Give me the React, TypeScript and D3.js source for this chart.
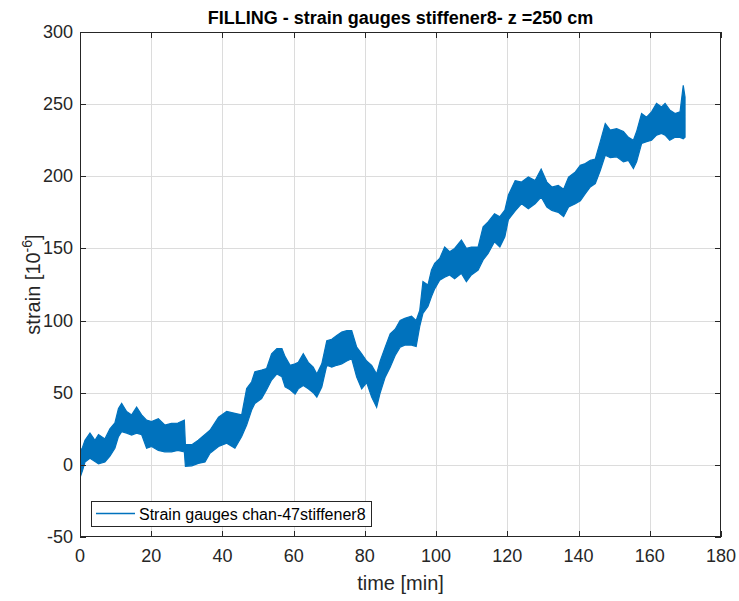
import { useEffect, useRef } from "react";
import * as d3 from "d3";

// sampled envelope of the strain trace (min / max of the noisy band)
const TIME_MIN = [
  0, 0.7, 1.4, 2.8, 4.2, 5.2, 7, 8.4, 9.8, 10.8, 11.7, 13.1, 14.5, 15.9, 17.3, 18.7, 20.1, 22, 23.8,
  25.7, 27.5, 29.3, 29.6, 31.4, 33.2, 35.1, 36.5, 38.9, 41.2, 43.5, 45.4, 46.8, 48.2, 49.1, 51, 52.4,
  53.8, 55.3, 56.7, 57.6, 59, 60.4, 61.3, 62.7, 64.1, 65.5, 66.5, 67.9, 69.3, 70.7, 72.1, 73.5, 74.9,
  76.3, 77.7, 79.1, 80.5, 81.9, 83.3, 84.3, 85.7, 87.1, 88.5, 89.9, 91.2, 93.1, 94.4, 95.4, 96.3, 97.7,
  98.7, 99.6, 101, 102.4, 103.8, 105.2, 107.1, 108.5, 109.9, 111.8, 113.2, 114.6, 116.4, 117.9, 119.3,
  120.3, 122.2, 124, 125.9, 127.8, 129.5, 131.1, 132.5, 134.3, 135.8, 137.2, 139.1, 140.5, 141.9, 143.3,
  144.7, 146.1, 147.5, 148.9, 150.7, 152.6, 154, 155.4, 156.3, 157.7, 159.1, 160.5, 161.9, 163.3, 164.3,
  165.6, 167.1, 168.5, 169.4, 169.9
];
const STRAIN_HI = [
  9, 12, 17, 22, 17, 21, 18, 25, 29, 39, 42.6, 37, 34.6, 40, 34.6, 31, 30, 32, 27.6,
  28.8, 29, 31, 14, 14, 17, 21, 24, 33, 37, 35.7, 34.6, 53, 57.6, 64.5, 65.7, 66.8,
  77, 80.6, 80.6, 75, 69, 70, 71, 77, 71, 67.7, 63, 70, 86, 87, 89.6, 92, 93,
  93, 81.6, 77, 72, 69, 63, 72, 81.6, 90.8, 94, 100, 101.6, 103, 100, 107, 127, 124.6,
  135, 139.6, 143, 151, 147.7, 150, 155.8, 150, 151, 151, 165, 168.4, 174, 172, 176.5,
  187, 197, 196, 199.5, 197, 205, 196, 192.6, 193.7, 191, 199.5, 203, 207.6, 208.8, 211,
  212, 224, 236.6, 232, 233, 231, 227, 225, 231, 243.5, 241, 244.7, 250.5, 248, 250.5,
  246, 243.5, 244.7, 263, 255
];
const STRAIN_LO = [
  -9, -4, 2, 4.6, 2.3, 0.7, 2, 6, 11.5, 19.6, 23, 22, 20.7, 22, 21, 11.5, 12.7, 10, 9,
  9, 10, 9, -1, -0.7, 1, 2, 8, 12.7, 15, 11.5, 19.6, 27.6, 38, 42.6, 46, 52,
  58.8, 63, 61, 54, 52, 49, 52.7, 55, 52.7, 50, 47, 54, 69, 67.7, 69, 70, 72,
  73.5, 60.8, 52.7, 57, 47, 40, 50, 60.8, 67.7, 75.8, 81.6, 83, 83, 82, 96, 105, 109.7,
  116.6, 122, 128, 130, 131.6, 129, 132.7, 127, 131.6, 135, 142, 146.5, 154.6, 151, 158,
  170, 176, 181, 177.5, 181, 185.6, 178.7, 176.4, 175, 172, 178.7, 181, 183, 188, 192.6,
  195, 204, 214.6, 213, 213.5, 210, 211, 205.4, 210, 222.7, 224, 225, 228.5, 229.7, 228.5,
  225, 227, 227, 226, 227
];

const X_TICKS = [0, 20, 40, 60, 80, 100, 120, 140, 160, 180];
const Y_TICKS = [-50, 0, 50, 100, 150, 200, 250, 300];

const TITLE = "FILLING - strain gauges stiffener8- z =250 cm";
const SERIES_NAME = "Strain gauges chan-47stiffener8";

const FONT = "'Liberation Sans', Arial, Helvetica, sans-serif";
const LINE_COLOR = "#0072BD";
const AXIS_COLOR = "#262626";

export default function App() {
  const svgRef = useRef<SVGSVGElement | null>(null);

  useEffect(() => {
    if (!svgRef.current) return;
    const svg = d3.select(svgRef.current);
    svg.selectAll("*").remove();

    const left = 80;
    const right = 721;
    const top = 32;
    const bottom = 537;

    const x = d3.scaleLinear().domain([0, 180]).range([left, right]);
    const y = d3.scaleLinear().domain([-50, 300]).range([bottom, top]);

    svg.append("rect").attr("width", 739).attr("height", 601).attr("fill", "#ffffff");

    // grid
    const grid = svg.append("g").attr("stroke", "#dcdcdc").attr("stroke-width", 1);
    X_TICKS.slice(1, -1).forEach((t) => {
      grid
        .append("line")
        .attr("x1", Math.round(x(t)) + 0.5)
        .attr("x2", Math.round(x(t)) + 0.5)
        .attr("y1", top)
        .attr("y2", bottom);
    });
    Y_TICKS.slice(1, -1).forEach((v) => {
      grid
        .append("line")
        .attr("y1", Math.round(y(v)) + 0.5)
        .attr("y2", Math.round(y(v)) + 0.5)
        .attr("x1", left)
        .attr("x2", right);
    });

    svg
      .append("clipPath")
      .attr("id", "plot-clip")
      .append("rect")
      .attr("x", left)
      .attr("y", top)
      .attr("width", right - left)
      .attr("height", bottom - top);

    const idx = d3.range(TIME_MIN.length);
    const band = d3
      .area<number>()
      .x((i) => x(TIME_MIN[i]))
      .y0((i) => y(STRAIN_LO[i]))
      .y1((i) => y(STRAIN_HI[i]));

    svg
      .append("path")
      .attr("clip-path", "url(#plot-clip)")
      .attr("d", band(idx) ?? "")
      .attr("fill", LINE_COLOR)
      .attr("stroke", LINE_COLOR)
      .attr("stroke-width", 1.2)
      .attr("stroke-linejoin", "miter");

    // axes box + inward ticks on all sides
    const axes = svg.append("g").attr("stroke", AXIS_COLOR).attr("stroke-width", 1).attr("fill", "none");
    axes
      .append("rect")
      .attr("x", left + 0.5)
      .attr("y", top + 0.5)
      .attr("width", right - left - 1)
      .attr("height", bottom - top - 1);
    const tick = 6;
    X_TICKS.forEach((t) => {
      const px = Math.round(x(t)) + 0.5;
      axes.append("line").attr("x1", px).attr("x2", px).attr("y1", bottom).attr("y2", bottom - tick);
      axes.append("line").attr("x1", px).attr("x2", px).attr("y1", top).attr("y2", top + tick);
    });
    Y_TICKS.forEach((v) => {
      const py = Math.round(y(v)) + 0.5;
      axes.append("line").attr("y1", py).attr("y2", py).attr("x1", left).attr("x2", left + tick);
      axes.append("line").attr("y1", py).attr("y2", py).attr("x1", right).attr("x2", right - tick);
    });

    const labels = svg.append("g").attr("font-family", FONT).attr("fill", AXIS_COLOR);
    X_TICKS.forEach((t) => {
      labels
        .append("text")
        .attr("x", x(t))
        .attr("y", 562)
        .attr("text-anchor", "middle")
        .attr("font-size", 18)
        .text(String(t));
    });
    Y_TICKS.forEach((v) => {
      labels
        .append("text")
        .attr("x", 73)
        .attr("y", y(v) + 6)
        .attr("text-anchor", "end")
        .attr("font-size", 18)
        .text(String(v));
    });

    labels
      .append("text")
      .attr("x", (left + right) / 2)
      .attr("y", 590)
      .attr("text-anchor", "middle")
      .attr("font-size", 20)
      .text("time [min]");

    const yl = labels
      .append("text")
      .attr("transform", `translate(40, ${(top + bottom) / 2}) rotate(-90)`)
      .attr("text-anchor", "middle")
      .attr("font-size", 20);
    yl.append("tspan").text("strain [10");
    yl.append("tspan").attr("font-size", 14).attr("dy", -8).text("-6");
    yl.append("tspan").attr("dy", 8).text("]");

    svg
      .append("text")
      .attr("x", (left + right) / 2)
      .attr("y", 24)
      .attr("text-anchor", "middle")
      .attr("font-family", FONT)
      .attr("font-weight", "bold")
      .attr("font-size", 18)
      .attr("fill", "#000000")
      .text(TITLE);

    // legend
    const legend = svg.append("g");
    legend
      .append("rect")
      .attr("x", 91.5)
      .attr("y", 501.5)
      .attr("width", 280)
      .attr("height", 25)
      .attr("fill", "#ffffff")
      .attr("stroke", AXIS_COLOR)
      .attr("stroke-width", 1);
    legend
      .append("line")
      .attr("x1", 96)
      .attr("x2", 135)
      .attr("y1", 513.5)
      .attr("y2", 513.5)
      .attr("stroke", LINE_COLOR)
      .attr("stroke-width", 1.5);
    legend
      .append("text")
      .attr("x", 139)
      .attr("y", 519.5)
      .attr("font-family", FONT)
      .attr("font-size", 16)
      .attr("fill", "#000000")
      .text(SERIES_NAME);
  }, []);

  return (
    <div style={{ position: "fixed", left: 0, top: 0 }}>
      <svg ref={svgRef} width={739} height={601} style={{ display: "block" }} />
    </div>
  );
}
